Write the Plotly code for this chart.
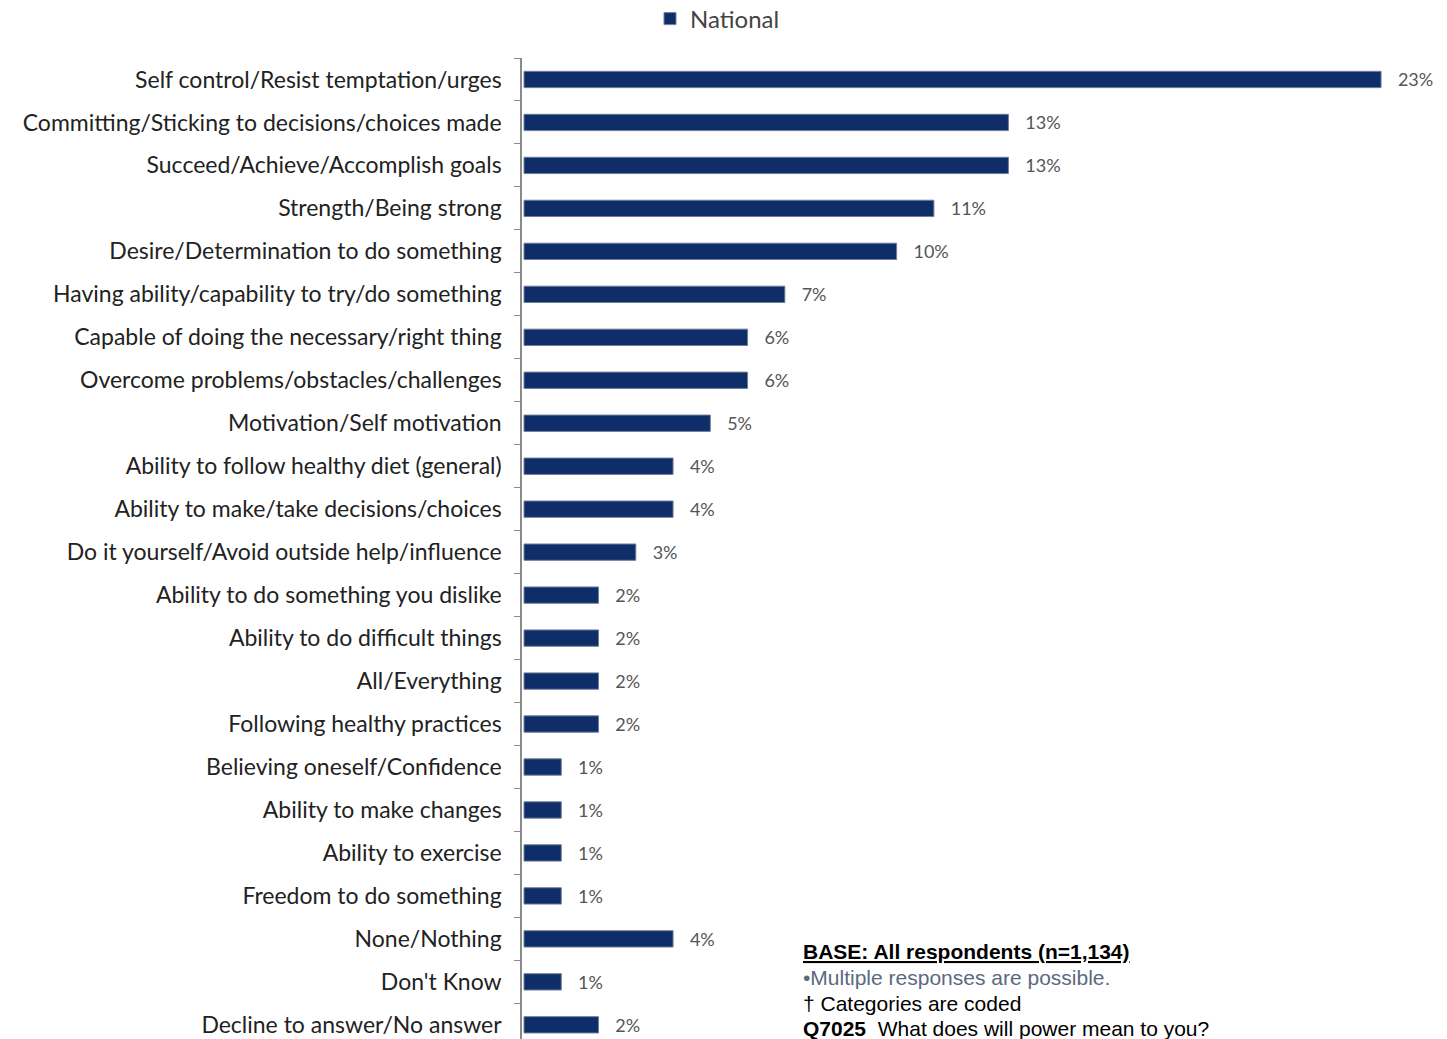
import plotly.graph_objects as go

categories = [
    "Self control/Resist temptation/urges",
    "Committing/Sticking to decisions/choices made",
    "Succeed/Achieve/Accomplish goals",
    "Strength/Being strong",
    "Desire/Determination to do something",
    "Having ability/capability to try/do something",
    "Capable of doing the necessary/right thing",
    "Overcome problems/obstacles/challenges",
    "Motivation/Self motivation",
    "Ability to follow healthy diet (general)",
    "Ability to make/take decisions/choices",
    "Do it yourself/Avoid outside help/influence",
    "Ability to do something you dislike",
    "Ability to do difficult things",
    "All/Everything",
    "Following healthy practices",
    "Believing oneself/Confidence",
    "Ability to make changes",
    "Ability to exercise",
    "Freedom to do something",
    "None/Nothing",
    "Don't Know",
    "Decline to answer/No answer",
]
values = [23, 13, 13, 11, 10, 7, 6, 6, 5, 4, 4, 3, 2, 2, 2, 2, 1, 1, 1, 1, 4, 1, 2]
series_name = "National"

OFF = 8  # default page body margin
W, H = 1447 - OFF, 1039 - OFF
ml, mt, mr, mb = 522 - OFF, 58 - OFF, 0, 0
plot_h = H - mt - mb
plot_w = W - ml - mr

fig = go.Figure()
fig.add_trace(go.Bar(
    y=categories,
    x=values,
    orientation="h",
    name=series_name,
    marker=dict(color="#0f2d68", line=dict(color="#6f7f99", width=1)),
    width=0.38,
    text=["   " + f"{v}%" for v in values],
    textposition="outside",
    constraintext="none",
    textfont=dict(family="Lato", size=18, color="#555555"),
    cliponaxis=False,
    showlegend=True,
))

fig.update_layout(
    width=W, height=H,
    margin=dict(l=ml, r=mr, t=mt, b=mb, pad=0, autoexpand=False),
    plot_bgcolor="white",
    paper_bgcolor="white",
    showlegend=True,
    legend=dict(
        orientation="h",
        x=(650 - OFF - ml) / plot_w, xanchor="left",
        y=1 + (mt - 11) / plot_h, yanchor="middle",
        font=dict(family="Lato", size=24, color="#444444"),
        itemwidth=30,
        bgcolor="rgba(0,0,0,0)",
    ),
    xaxis=dict(
        range=[-0.054, 24.77],
        visible=False,
        showgrid=False,
        zeroline=False,
    ),
    yaxis=dict(
        categoryorder="array",
        categoryarray=categories,
        range=[22.33, -0.5],
        showline=True,
        linecolor="#8a8a8a",
        linewidth=1.5,
        ticks="outside",
        tickson="boundaries",
        ticklen=6,
        tickcolor="#8a8a8a",
        tickfont=dict(family="Lato", size=23, color="#222222"),
        ticklabelstandoff=14,
        showgrid=False,
        zeroline=False,
    ),
    font=dict(family="Lato"),
)

notes = [
    ("<b><u>BASE: All respondents (n=1,134)</u></b>", "#000000", 951),
    ("•Multiple responses are possible.", "#5a6a7e", 977),
    ("† Categories are coded", "#000000", 1003),
    ("<b>Q7025</b>  What does will power mean to you?", "#000000", 1028),
]
for txt, col, py in notes:
    fig.add_annotation(
        text=txt,
        xref="paper", yref="paper",
        x=(801 - OFF - ml) / plot_w, xanchor="left",
        y=1 - (py - OFF - mt) / plot_h, yanchor="middle",
        showarrow=False,
        font=dict(family="Liberation Sans", size=21, color=col),
        align="left",
    )

fig.write_html("out.html")
